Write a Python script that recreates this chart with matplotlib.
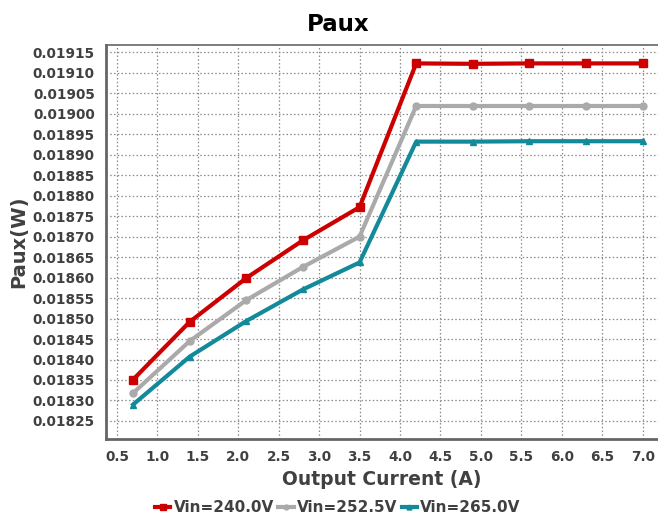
import matplotlib
matplotlib.use("Agg")
import matplotlib.pyplot as plt
import numpy as np

# data
current = [0.7, 1.4, 2.1, 2.8, 3.5, 4.2, 4.9, 5.6, 6.3, 7.0]
paux_240 = [0.018351, 0.018492, 0.018599, 0.018691, 0.018772, 0.019123, 0.019122, 0.019123, 0.019123, 0.019123]
paux_2525 = [0.018318, 0.018445, 0.018545, 0.018626, 0.018700, 0.019019, 0.019019, 0.019019, 0.019019, 0.019019]
paux_265 = [0.018290, 0.018407, 0.018494, 0.018571, 0.018637, 0.018932, 0.018932, 0.018933, 0.018933, 0.018933]
series_names = ["Vin=240.0V", "Vin=252.5V", "Vin=265.0V"]
xticks = np.arange(0.5, 7.01, 0.5)
yticks = np.arange(0.01825, 0.019151, 0.00005)

txt = '#404040'
fig = plt.figure(figsize=(6.58, 5.14), dpi=100)
ax = fig.add_axes([0.161, 0.146, 0.839, 0.7665])

ax.plot(current, paux_240, color='#cc0000', lw=3, marker='s', ms=5.5, label=series_names[0])
ax.plot(current, paux_2525, color='#aaaaaa', lw=3, marker='o', ms=5, label=series_names[1])
ax.plot(current, paux_265, color='#138a99', lw=3, marker='^', ms=5, label=series_names[2])

ax.set_xlim(0.364, 7.19)
ax.set_ylim(0.018206, 0.019168)
ax.set_xticks(xticks)
ax.set_xticklabels(["%.1f" % v for v in xticks])
ax.set_yticks(yticks)
ax.set_yticklabels(["%.5f" % v for v in yticks])
ax.tick_params(length=0, pad=8, labelsize=9.8, labelcolor=txt)
for lab in ax.get_xticklabels() + ax.get_yticklabels():
    lab.set_fontweight('bold')

ax.grid(True, linestyle=(0, (1.2, 1.8)), color='#8a8a8a', lw=0.9)
ax.set_axisbelow(True)
for s in ['left', 'bottom']:
    ax.spines[s].set_color('#666666')
    ax.spines[s].set_linewidth(2)
ax.spines['top'].set_color('#666666')
ax.spines['top'].set_linewidth(1.2)
ax.spines['right'].set_visible(False)

fig.text(0.514, 0.953, "Paux", fontsize=16.5, fontweight='bold', color='black', ha='center', va='center')
ax.set_xlabel("Output Current (A)", fontsize=13.5, fontweight='bold', color=txt, labelpad=4)
ax.set_ylabel("Paux(W)", fontsize=14, fontweight='bold', color=txt, labelpad=3)

leg = ax.legend(loc='upper center', bbox_to_anchor=(0.42, -0.147), ncol=3, frameon=False,
                handlelength=1.0, handletextpad=0.2, columnspacing=0.3,
                prop={'weight': 'bold', 'size': 11}, markerscale=0.7,
                borderaxespad=0, borderpad=0.2)
for t in leg.get_texts():
    t.set_color(txt)

fig.savefig("out.png", dpi=100)
